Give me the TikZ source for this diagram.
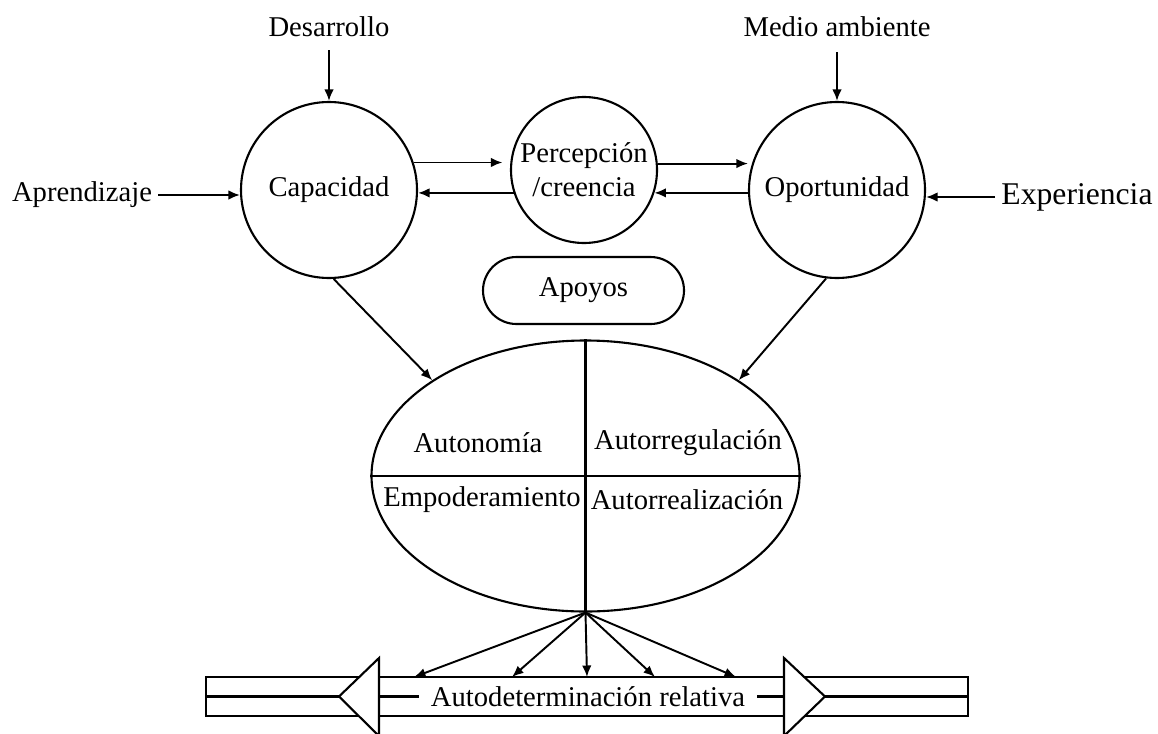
\documentclass[tikz,border=0pt]{standalone}
\usepackage{fontspec}
\setmainfont{Liberation Serif}
\usetikzlibrary{arrows.meta,shapes.geometric}

\begin{document}
\begin{tikzpicture}[every node/.style={font=\fontsize{16.3pt}{19.4pt}\selectfont, inner sep=0pt},
    circ/.style={draw, circle, line width=1.2pt},
    arr/.style={line width=1.1pt, -{Latex[length=2.3mm,width=1.9mm]}},
    lbl/.style={inner sep=0.12cm}]

      \useasboundingbox (0,0) rectangle (23.16,-14.66);

      % Circles
      \node[circ, minimum size=3.52cm] (cap) at (6.58,-3.80) {Capacidad};
      \node[circ, minimum size=2.92cm, align=center] (perc) at (11.68,-3.40) {Percepción\\/creencia};
      \node[circ, minimum size=3.52cm] (opor) at (16.74,-3.80) {Oportunidad};

      % Apoyos
      \node[draw, line width=1.2pt, rounded corners=0.67cm, minimum width=4.02cm, minimum height=1.34cm] (apoyos) at (11.67,-5.81) {Apoyos};

      % Outer labels
      \node[lbl] (des) at (6.58,-0.54) {Desarrollo};
      \node[lbl] (med) at (16.74,-0.54) {Medio ambiente};
      \node[lbl] (apr) at (1.64,-3.90) {Aprendizaje};
      \node[lbl, font=\fontsize{18pt}{21pt}\selectfont] (exp) at (21.54,-3.94) {Experiencia};

      % Ellipse
      \node[draw, ellipse, line width=1.2pt, minimum width=8.56cm, minimum height=5.42cm] (ell) at (11.71,-9.52) {};
      \draw[line width=1.2pt] (ell.west) -- (ell.east);
      \draw[line width=1.2pt] (ell.north) -- (ell.south);
      \node (auto) at (9.56,-8.86) {Autonomía};
      \node (reg) at (13.76,-8.86) {Autorregulación};
      \node (emp) at (9.64,-10.00) {Empoderamiento};
      \node (real) at (13.74,-10.00) {Autorrealización};

      % Input arrows
      \draw[arr, shorten <=0.14cm] (des) -- (cap);
      \draw[arr, shorten <=0.18cm] (med) -- (opor);
      \draw[arr] (apr.east) -- (apr.east -| cap.west);
      \draw[arr] (exp.west) -- (exp.west -| opor.east);

      % Arrows between circles
      \draw[arr, shorten >=0.15cm] (cap.18) -- (cap.18 -| perc.west);
      \draw[arr] (perc.198) -- (perc.198 -| cap.east);
      \draw[arr] (perc.5) -- (perc.5 -| opor.west);
      \draw[arr] (perc.-18 -| opor.west) -- (perc.-18);

      % Arrows to ellipse
      \draw[arr] (cap.-87) -- (ell.148);
      \draw[arr] (opor.263) -- (ell.32);

      % Bar
      \node[draw, line width=1.2pt, minimum width=15.24cm, minimum height=0.78cm] (bar) at (11.74,-13.93) {};
      \draw[line width=1.2pt] (bar.west) -- (bar.east);
      \draw[line width=1.2pt, fill=white] (6.78,-13.93) -- (7.58,-13.16) -- (7.58,-14.72) -- cycle;
      \draw[line width=1.2pt, fill=white] (16.50,-13.93) -- (15.68,-13.16) -- (15.68,-14.72) -- cycle;
      \node[fill=white, inner xsep=0.24cm] (autodet) at (11.76,-13.93) {Autodeterminación relativa};

      % Fan to bar
      \coordinate (t1) at (8.28,-13.54);
      \coordinate (t2) at (10.24,-13.54);
      \coordinate (t3) at (11.74,-13.54);
      \coordinate (t4) at (13.10,-13.54);
      \coordinate (t5) at (14.72,-13.54);
      \draw[arr] (ell.south) -- (t1);
      \draw[arr] (ell.south) -- (t2);
      \draw[arr] (ell.south) -- (t3);
      \draw[arr] (ell.south) -- (t4);
      \draw[arr] (ell.south) -- (t5);

    \end{tikzpicture}
\end{document}
